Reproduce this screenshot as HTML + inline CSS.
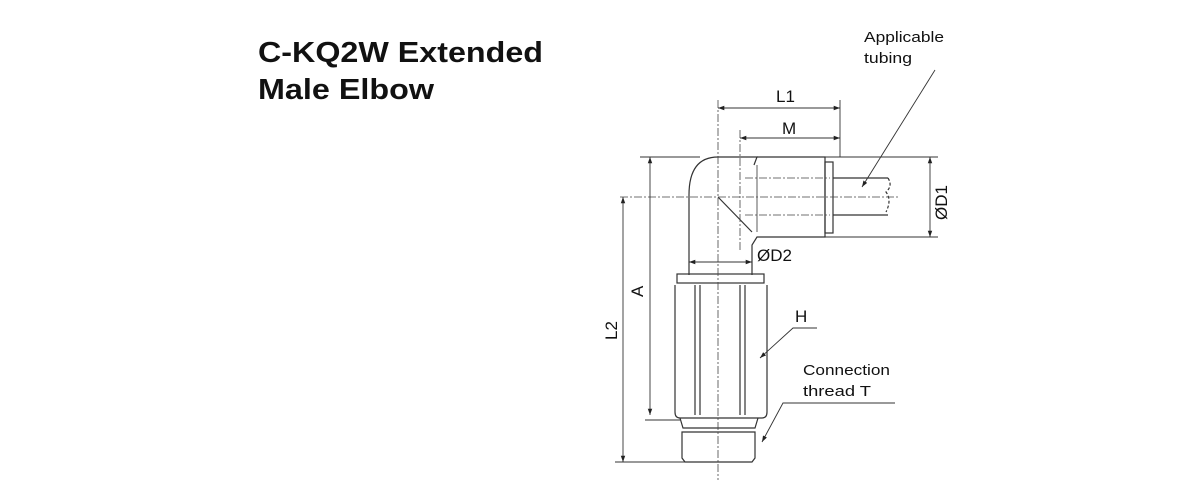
<!DOCTYPE html>
<html><head><meta charset="utf-8"><style>
body{margin:0;background:#fff;}
svg{display:block}
text{font-family:"Liberation Sans",sans-serif;fill:#111}
</style></head><body>
<svg width="1200" height="500" viewBox="0 0 1200 500">
<defs>
<marker id="a" viewBox="0 0 10 10" refX="10" refY="5" markerWidth="7" markerHeight="7" orient="auto-start-reverse"><path d="M0,1.5 L10,5 L0,8.5 z" fill="#222"/></marker>
</defs>
<text x="258" y="62" font-size="29" font-weight="bold" textLength="285" lengthAdjust="spacingAndGlyphs">C-KQ2W Extended</text>
<text x="258" y="99" font-size="29" font-weight="bold" textLength="176" lengthAdjust="spacingAndGlyphs">Male Elbow</text>
<g stroke="#333" stroke-width="1.2" fill="none">
<path d="M689,275 L689,195 Q689,157 718,157 L757,157 L754,165"/>
<path d="M757,165 L757,232" stroke-width="0.8"/>
<path d="M757,157 L825,157 L825,237 L757,237 L752,245 L752,275"/>
<path d="M718,197 L752,232"/>
<rect x="825" y="162" width="8" height="71"/>
<path d="M833,178 L888,178 M833,215 L888,215"/>
<path d="M888,178 q5,8 -2,14 q6,8 0,20" stroke-dasharray="3,2"/>
<rect x="677" y="274" width="87" height="9"/>
<path d="M675,285 L675,412 Q675,418 680,418 L762,418 Q767,418 767,412 L767,285"/>
<path d="M695,285 L695,415 M700,285 L700,415 M740,285 L740,415 M745,285 L745,415"/>
<path d="M680,418 L683,428 L755,428 L758,418"/>
<path d="M682,432 L755,432 L755,458 L752,462 L685,462 L682,458 Z"/>
</g>
<g stroke="#444" stroke-width="0.8" fill="none" stroke-dasharray="8,2,2,2">
<path d="M718,100 L718,480"/>
<path d="M620,197 L900,197"/>
<path d="M740,130 L740,250"/>
<path d="M745,178 L830,178 M745,215 L830,215"/>
</g>
<g stroke="#333" stroke-width="0.9" fill="none">
<path d="M840,100 L840,157"/>
<path d="M718,108 L840,108" marker-start="url(#a)" marker-end="url(#a)"/>
<path d="M740,138 L840,138" marker-start="url(#a)" marker-end="url(#a)"/>
<path d="M640,157 L700,157 M825,157 L938,157 M825,237 L938,237"/>
<path d="M930,157 L930,237" marker-start="url(#a)" marker-end="url(#a)"/>
<path d="M650,157 L650,415" marker-start="url(#a)" marker-end="url(#a)"/>
<path d="M645,420 L680,420"/>
<path d="M623,197 L623,462" marker-start="url(#a)" marker-end="url(#a)"/>
<path d="M615,462 L690,462"/>
<path d="M689,262 L752,262" marker-start="url(#a)" marker-end="url(#a)"/>
<path d="M935,70 L862,187" marker-end="url(#a)"/>
<path d="M817,328 L793,328 L760,358" marker-end="url(#a)"/>
<path d="M895,403 L783,403 L762,442" marker-end="url(#a)"/>
</g>
<text x="864" y="42" font-size="15" textLength="80" lengthAdjust="spacingAndGlyphs">Applicable</text>
<text x="864" y="63" font-size="15" textLength="48" lengthAdjust="spacingAndGlyphs">tubing</text>
<text x="776" y="102" font-size="17">L1</text>
<text x="782" y="134" font-size="17">M</text>
<text x="757" y="261" font-size="17">ØD2</text>
<text x="795" y="322" font-size="17">H</text>
<text x="803" y="375" font-size="15" textLength="87" lengthAdjust="spacingAndGlyphs">Connection</text>
<text x="803" y="396" font-size="15" textLength="68" lengthAdjust="spacingAndGlyphs">thread T</text>
<text transform="translate(947,220) rotate(-90)" font-size="17">ØD1</text>
<text transform="translate(643,297) rotate(-90)" font-size="17">A</text>
<text transform="translate(617,340) rotate(-90)" font-size="17">L2</text>
</svg>
</body></html>
